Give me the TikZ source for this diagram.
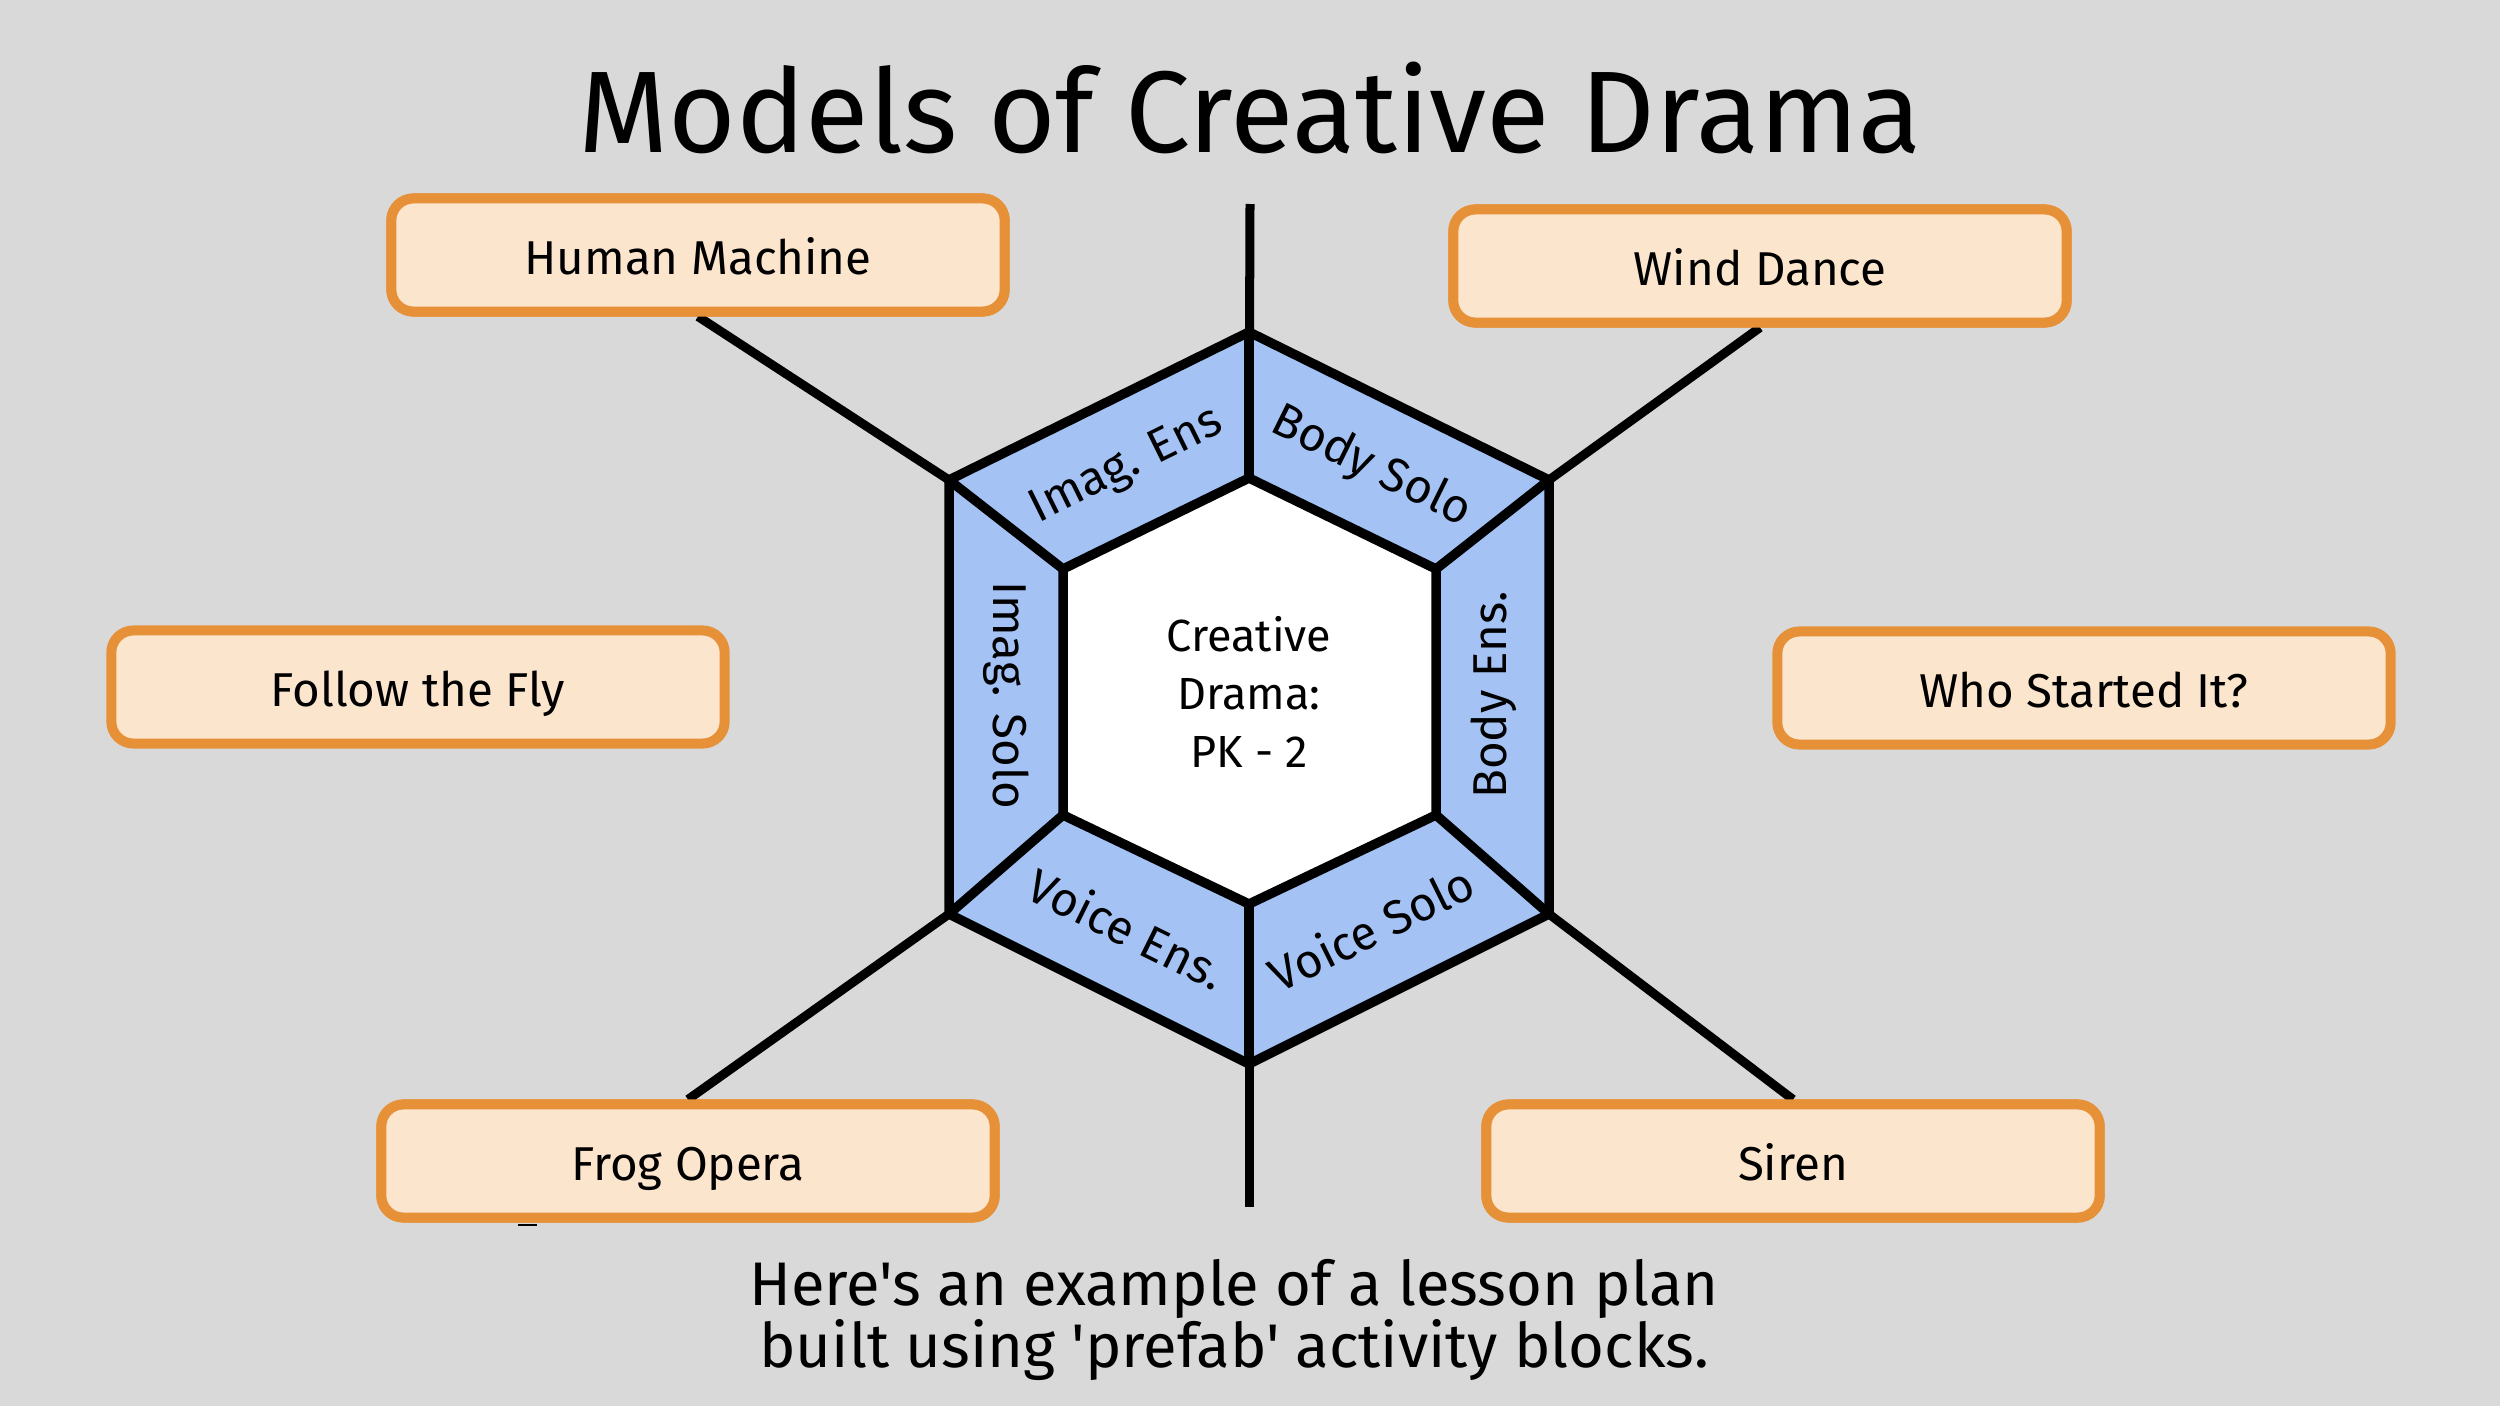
\documentclass[tikz,border=0pt]{standalone}
\usepackage{fontspec}
\setmainfont{Fira Sans}[Ligatures=TeXOff]
\definecolor{bg}{HTML}{D9D9D9}
\definecolor{boxfill}{HTML}{FCE5CD}
\definecolor{boxline}{HTML}{E69138}
\definecolor{ring}{HTML}{A4C2F4}
\begin{document}
\begin{tikzpicture}[x=0.01cm,y=-0.01cm,
  activity/.style={draw=boxline,fill=boxfill,line width=0.1cm,rounded corners=0.22cm,
    minimum width=6.13cm,minimum height=1.13cm,inner sep=0pt,text height=11pt,text depth=0pt,
    font=\fontsize{13.5}{16}\selectfont},
  spoke/.style={line width=0.09cm,black},
  hexline/.style={line width=0.095cm,black},
  ringlabel/.style={font=\fontsize{13.5}{16}\selectfont,inner sep=0pt}]
\fill[bg] (0,0) rectangle (2500,1406);
\useasboundingbox (0,0) rectangle (2500,1406);

% title
\node[font=\fontsize{33}{40}\selectfont,anchor=base] (title) at (1250,152) {Models of Creative Drama};

% hexagon coordinates
\coordinate (OT) at (1249,332);
\coordinate (OUR) at (1549,480);
\coordinate (OLR) at (1549,914);
\coordinate (OB) at (1249,1064);
\coordinate (OLL) at (949,914);
\coordinate (OUL) at (949,480);
\coordinate (IT) at (1249,478);
\coordinate (IUR) at (1436,569);
\coordinate (ILR) at (1436,815);
\coordinate (IB) at (1249,904);
\coordinate (ILL) at (1063,815);
\coordinate (IUL) at (1063,569);
\coordinate (topend) at (1250,204);
\coordinate (botend) at (1249,1207);

% box positions
\path (698,255) node[activity] (hm) {Human Machine};
\path (1760,266) node[activity] (wd) {Wind Dance};
\path (418,687) node[activity] (ff) {Follow the Fly};
\path (2084,688) node[activity] (ws) {Who Started It?};
\path (688,1161) node[activity] (fo) {Frog Opera};
\path (1793,1161) node[activity] (si) {Siren};

% spokes
\draw[spoke] (OUL) -- (hm.south);
\draw[spoke] (OUR) -- (wd.south);
\draw[spoke] (OLL) -- (fo.north);
\draw[spoke] (OLR) -- (si.north);
\draw[spoke] (IT) -- (topend);
\draw[spoke] (IB) -- (botend);

% boxes again, over the spoke ends
\node[activity] at (hm) {Human Machine};
\node[activity] at (wd) {Wind Dance};
\node[activity] at (fo) {Frog Opera};
\node[activity] at (si) {Siren};

% small mark under Frog Opera
\coordinate (markA) at (518,1225);
\coordinate (markB) at (537,1225);
\draw[line width=0.02cm] (markA) -- (markB);

% ring
\fill[ring] (OT) -- (OUR) -- (OLR) -- (OB) -- (OLL) -- (OUL) -- cycle;
\fill[white] (IT) -- (IUR) -- (ILR) -- (IB) -- (ILL) -- (IUL) -- cycle;
\draw[hexline] (OT) -- (OUR) -- (OLR) -- (OB) -- (OLL) -- (OUL) -- cycle;
\draw[hexline] (IT) -- (IUR) -- (ILR) -- (IB) -- (ILL) -- (IUL) -- cycle;
\draw[hexline] (OT) -- (IT);
\draw[hexline] (OB) -- (IB);
\draw[hexline] (OUR) -- (IUR);
\draw[hexline] (OLR) -- (ILR);
\draw[hexline] (OLL) -- (ILL);
\draw[hexline] (OUL) -- (IUL);

% ring labels
\node[ringlabel,rotate=26.3] (ie) at (1127,467) {Imag. Ens};
\node[ringlabel,rotate=-26.3] (bs) at (1371,467) {Body Solo};
\node[ringlabel,rotate=90] (be) at (1494,695) {Body Ens.};
\node[ringlabel,rotate=-90] (is) at (1006,695) {Imag. Solo};
\node[ringlabel,rotate=-26.3] (ve) at (1127,928) {Voice Ens.};
\node[ringlabel,rotate=26.3] (vs) at (1371,928) {Voice Solo};

% center
\node[align=center,font=\fontsize{12.8}{16.5}\selectfont] (center) at (1249,692) {Creative\\Drama:\\PK - 2};

% caption
\node[font=\fontsize{17.5}{17.7}\selectfont,anchor=base] (cap1) at (1234,1305) {Here's an example of a lesson plan};
\node[font=\fontsize{17.5}{17.7}\selectfont,anchor=base] (cap2) at (1234,1367) {built using 'prefab' activity blocks.};
\end{tikzpicture}
\end{document}
